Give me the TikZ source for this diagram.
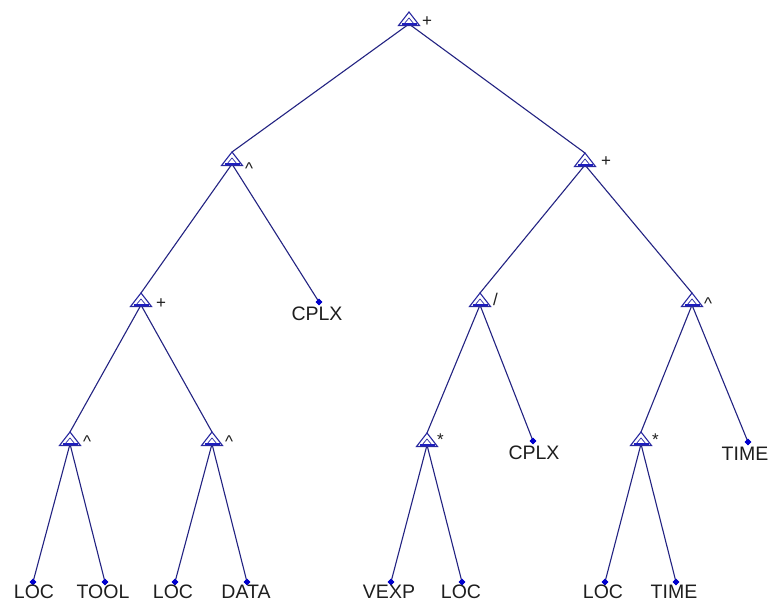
\documentclass[tikz,border=0pt]{standalone}
\usepackage{fontspec}
\setmainfont{Liberation Sans}
\usetikzlibrary{calc,shapes.geometric}
\definecolor{edgecol}{RGB}{35,35,130}
\definecolor{tricol}{RGB}{40,40,160}
\definecolor{barcol}{RGB}{30,30,190}
\definecolor{dotcol}{RGB}{0,0,205}
\definecolor{txtcol}{RGB}{30,30,30}
\newcommand\optri[1]{%
  \draw[tri] (#1) -- ($(#1)+(-10.5,13.5)$) -- ($(#1)+(10.5,13.5)$) -- cycle;
  \draw[tri,line width=0.7pt] ($(#1)+(-5,12)$) -- ($(#1)+(0,6)$) -- ($(#1)+(5,12)$);
  \draw[bar] ($(#1)+(-7.5,12)$) -- ($(#1)+(7.5,12)$);}
\begin{document}
\begin{tikzpicture}[x=1pt,y=-1pt,
  edge/.style={draw=edgecol, line width=1.1pt},
  tri/.style={draw=tricol, line width=1.1pt},
  bar/.style={draw=barcol, line width=2.4pt},
  leafdot/.style={diamond, fill=dotcol, minimum size=6.5pt, inner sep=0pt},
  leaftext/.style={anchor=north, inner sep=0pt, font=\fontsize{19.5}{19.5}\selectfont, text=txtcol},
  oplabel/.style={anchor=base west, inner sep=0pt, font=\fontsize{17}{17}\selectfont, text=txtcol}]
\useasboundingbox[fill=white] (0,0) rectangle (772,610);
% internal nodes (apex) and their base centres
\coordinate (r) at (409,12);
\coordinate (a) at (232,152);
\coordinate (b) at (585,153);
\coordinate (c) at (141,293);
\coordinate (e) at (480,293);
\coordinate (f) at (692,293);
\coordinate (g) at (70,432);
\coordinate (h) at (212,432);
\coordinate (i) at (427,433);
\coordinate (k) at (641,432);
\foreach \n in {r,a,b,c,e,f,g,h,i,k}{\path ($(\n)+(0,12)$) coordinate (\n b);}
% leaves
\node[leafdot] (d) at (319,302) {};
\node[leafdot] (j) at (533,441) {};
\node[leafdot] (l) at (748,442) {};
\node[leafdot] (m1) at (33,582) {};
\node[leafdot] (m2) at (105,582) {};
\node[leafdot] (m3) at (175,582) {};
\node[leafdot] (m4) at (247,582) {};
\node[leafdot] (m5) at (391,582) {};
\node[leafdot] (m6) at (462,582) {};
\node[leafdot] (m7) at (605,582) {};
\node[leafdot] (m8) at (676,582) {};
% edges
\draw[edge] (rb) -- (a);
\draw[edge] (rb) -- (b);
\draw[edge] (ab) -- (c);
\draw[edge] (ab) -- (d.center);
\draw[edge] (bb) -- (e);
\draw[edge] (bb) -- (f);
\draw[edge] (cb) -- (g);
\draw[edge] (cb) -- (h);
\draw[edge] (eb) -- (i);
\draw[edge] (eb) -- (j.center);
\draw[edge] (fb) -- (k);
\draw[edge] (fb) -- (l.center);
\draw[edge] (gb) -- (m1.center);
\draw[edge] (gb) -- (m2.center);
\draw[edge] (hb) -- (m3.center);
\draw[edge] (hb) -- (m4.center);
\draw[edge] (ib) -- (m5.center);
\draw[edge] (ib) -- (m6.center);
\draw[edge] (kb) -- (m7.center);
\draw[edge] (kb) -- (m8.center);
% triangles
\foreach \n in {r,a,b,c,e,f,g,h,i,k}{\optri{\n}}
% redraw dots on top
\foreach \n in {d,j,l,m1,m2,m3,m4,m5,m6,m7,m8}{\fill[dotcol] ($(\n)+(0,-3.4)$) -- ($(\n)+(3.4,0)$) -- ($(\n)+(0,3.4)$) -- ($(\n)+(-3.4,0)$) -- cycle;}
% operator labels
\node[oplabel] (lr) at (422,27) {+};
\node[oplabel] (la) at (245,174) {\textasciicircum};
\node[oplabel] (lb) at (601,166) {+};
\node[oplabel] (lc) at (156,308) {+};
\node[oplabel] (le) at (493,305) {/};
\node[oplabel] (lf) at (704,309) {\textasciicircum};
\node[oplabel] (lg) at (83,447) {\textasciicircum};
\node[oplabel] (lh) at (225,447) {\textasciicircum};
\node[oplabel] (li) at (437,445) {*};
\node[oplabel] (lk) at (652,445) {*};
% leaf labels
\node[leaftext] (td) at ($(d)+(-2,5)$) {CPLX};
\node[leaftext] (tj) at ($(j)+(1,5)$) {CPLX};
\node[leaftext] (tl) at ($(l)+(-3,5)$) {TIME};
\node[leaftext] (t1) at ($(m1)+(1,3)$) {LOC};
\node[leaftext] (t2) at ($(m2)+(-2,3)$) {TOOL};
\node[leaftext] (t3) at ($(m3)+(-2,3)$) {LOC};
\node[leaftext] (t4) at ($(m4)+(-1,3)$) {DATA};
\node[leaftext] (t5) at ($(m5)+(-2,3)$) {VEXP};
\node[leaftext] (t6) at ($(m6)+(-1,3)$) {LOC};
\node[leaftext] (t7) at ($(m7)+(-2,3)$) {LOC};
\node[leaftext] (t8) at ($(m8)+(-2,3)$) {TIME};
\end{tikzpicture}
\end{document}
